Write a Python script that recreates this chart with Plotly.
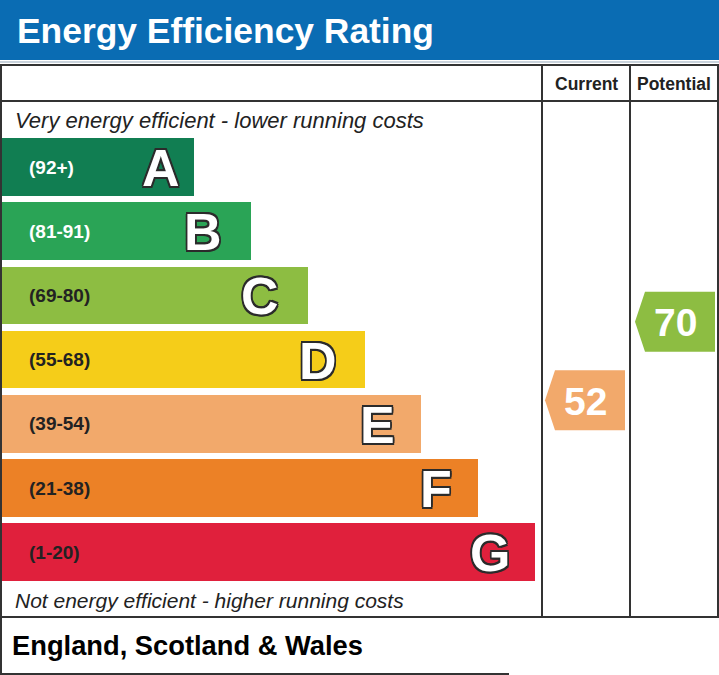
import plotly.graph_objects as go

# ---- data ----
bands = ["A", "B", "C", "D", "E", "F", "G"]
ranges = ["(92+)", "(81-91)", "(69-80)", "(55-68)", "(39-54)", "(21-38)", "(1-20)"]
band_min = [92, 81, 69, 55, 39, 21, 1]
band_max = [100, 91, 80, 68, 54, 38, 20]
band_colors = ["#117e52", "#2aa456", "#8dbd42", "#f5cd19", "#f2a96b", "#ec8126", "#e0203c"]
range_text_colors = ["white", "white", "#222222", "#222222", "#222222", "#222222", "#222222"]
current_score = 52
potential_score = 70

# ---- layout geometry (pixels) ----
W, H = 719, 675
bar_x0 = 2
bar_y0 = 167.0     # centre of first band
pitch = 64.2       # band pitch
bar_h = 57.5
bar_end0 = 194.0
bar_step = 56.85
col1, col2, col3 = 542, 630, 718
arrow_h = 60
arrow_tip = 10

def band_index(score):
    for i, (lo, hi) in enumerate(zip(band_min, band_max)):
        if lo <= score <= hi:
            return i
    return len(bands) - 1

def score_to_y(score):
    i = band_index(score)
    top = bar_y0 + i * pitch - pitch / 2
    frac = (band_max[i] - score) / (band_max[i] - band_min[i])
    return top + frac * pitch

centers = [bar_y0 + i * pitch for i in range(len(bands))]
lengths = [bar_end0 + i * bar_step - bar_x0 for i in range(len(bands))]

fig = go.Figure()

fig.add_trace(go.Bar(
    orientation="h", y=centers, x=lengths, base=bar_x0, width=bar_h,
    marker=dict(color=band_colors, line=dict(width=0)),
    hoverinfo="skip", showlegend=False,
))

outline = ", ".join(f"{dx}px {dy}px 0 #2b2b2b" for dx, dy in
                    [(-1.6, -1.6), (1.6, -1.6), (-1.6, 1.6), (1.6, 1.6),
                     (0, 1.8), (0, -1.8), (1.8, 0), (-1.8, 0)])

annotations = []
for i, b in enumerate(bands):
    end = bar_x0 + lengths[i]
    off = 12 if i == 0 else 27 - (i - 1) * 0.7
    annotations.append(dict(
        x=end - off, y=centers[i] + 1, text=b, showarrow=False, xanchor="right", yanchor="middle",
        font=dict(family="Liberation Sans", size=52, color="white", weight="bold", shadow=outline),
    ))
    annotations.append(dict(
        x=27, y=centers[i], text=ranges[i], showarrow=False, xanchor="left", yanchor="middle",
        font=dict(family="Liberation Sans", size=19, color=range_text_colors[i], weight="bold"),
    ))

# arrows
def add_arrow(score, x_left, x_right, color):
    yc = score_to_y(score)
    xs = [x_left, x_left + arrow_tip, x_right, x_right, x_left + arrow_tip, x_left]
    ys = [yc, yc - arrow_h / 2, yc - arrow_h / 2, yc + arrow_h / 2, yc + arrow_h / 2, yc]
    fig.add_trace(go.Scatter(x=xs, y=ys, fill="toself", fillcolor=color, mode="lines",
                             line=dict(width=0, color=color), hoverinfo="skip", showlegend=False))
    annotations.append(dict(
        x=(x_left + x_right) / 2, y=yc + 1, text=str(score), showarrow=False,
        xanchor="center", yanchor="middle",
        font=dict(family="Liberation Sans", size=39, color="white", weight="bold"),
    ))

add_arrow(current_score, col1 + 3, col2 - 5, band_colors[band_index(current_score)])
add_arrow(potential_score, col2 + 5, col3 - 3, band_colors[band_index(potential_score)])

# texts
annotations += [
    dict(x=15, y=31, text="Energy Efficiency Rating", showarrow=False, xanchor="left", yanchor="middle",
         font=dict(family="Liberation Sans", size=35.4, color="white", weight="bold")),
    dict(x=(col1 + col2) / 2, y=84, text="Current", showarrow=False, xanchor="center", yanchor="middle",
         font=dict(family="Liberation Sans", size=17.5, color="#222222", weight="bold")),
    dict(x=(col2 + col3) / 2, y=84, text="Potential", showarrow=False, xanchor="center", yanchor="middle",
         font=dict(family="Liberation Sans", size=17.5, color="#222222", weight="bold")),
    dict(x=13, y=120, text="Very energy efficient - lower running costs", showarrow=False,
         xanchor="left", yanchor="middle",
         font=dict(family="Liberation Sans", size=22, color="#222222", style="italic")),
    dict(x=13, y=600, text="Not energy efficient - higher running costs", showarrow=False,
         xanchor="left", yanchor="middle",
         font=dict(family="Liberation Sans", size=21, color="#222222", style="italic")),
    dict(x=10, y=645, text="England, Scotland & Wales", showarrow=False, xanchor="left", yanchor="middle",
         font=dict(family="Liberation Sans", size=27.3, color="black", weight="bold")),
]

line = dict(color="#333333", width=2)
shapes = [
    dict(type="rect", x0=0, x1=W, y0=0, y1=60, fillcolor="#0a6cb3", line=dict(width=0), layer="below"),
    dict(type="line", x0=0, x1=W, y0=62, y1=62, line=dict(color="#c9d3dc", width=2)),
    dict(type="rect", x0=1, x1=col3, y0=65, y1=617, line=line, fillcolor="rgba(0,0,0,0)"),
    dict(type="line", x0=1, x1=col3, y0=101, y1=101, line=line),
    dict(type="line", x0=col1, x1=col1, y0=65, y1=617, line=line),
    dict(type="line", x0=col2, x1=col2, y0=65, y1=617, line=line),
    dict(type="line", x0=1, x1=1, y0=617, y1=674, line=line),
    dict(type="line", x0=0, x1=509, y0=674, y1=674, line=line),
]

fig.update_layout(
    width=W, height=H, margin=dict(l=0, r=0, t=0, b=0),
    paper_bgcolor="white", plot_bgcolor="white",
    xaxis=dict(range=[0, W], visible=False, fixedrange=True),
    yaxis=dict(range=[H, 0], visible=False, fixedrange=True),
    annotations=annotations, shapes=shapes, bargap=0,
)

fig.write_html("out.html", config={"displayModeBar": False},
               post_script="document.body.style.margin='0';document.body.style.overflow='hidden';")
